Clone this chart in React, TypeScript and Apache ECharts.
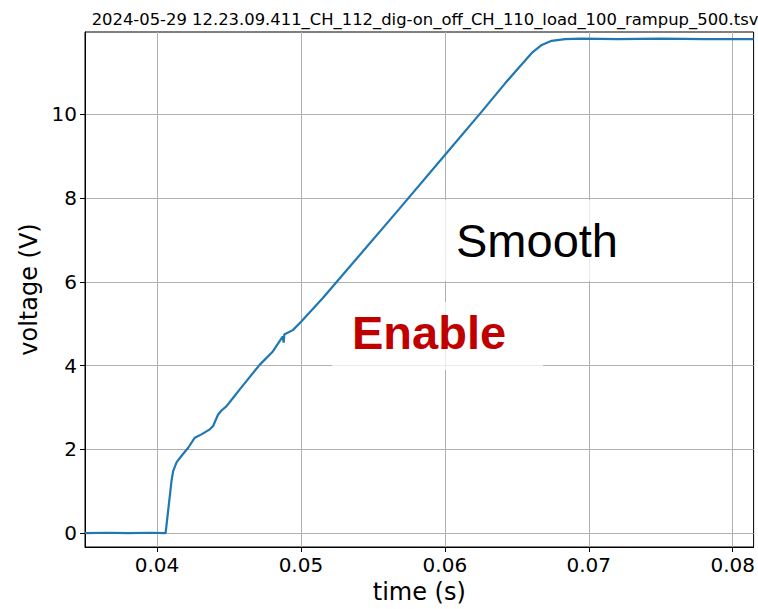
import React, { useEffect, useRef } from "react";
import * as echarts from "echarts";

const TITLE = "2024-05-29 12.23.09.411_CH_112_dig-on_off_CH_110_load_100_rampup_500.tsv";
const timeS = [
  0.035, 0.0365, 0.038, 0.0395, 0.0406, 0.04101, 0.04113, 0.04136, 0.04171, 0.04217,
  0.04263, 0.04309, 0.04367, 0.0439, 0.04424, 0.04448, 0.04482, 0.04528, 0.04574, 0.04713,
  0.04805, 0.04851, 0.04874, 0.0488, 0.04885, 0.04897, 0.04944, 0.05001, 0.05151, 0.05682,
  0.06005, 0.06259, 0.0642, 0.06512, 0.06604, 0.06673, 0.06742, 0.06834, 0.06948, 0.072,
  0.075, 0.078, 0.08145,
];
const voltage = [
  0.0, 0.01, 0.0, 0.01, 0.0, 1.25, 1.49, 1.69, 1.85, 2.04,
  2.28, 2.36, 2.48, 2.56, 2.83, 2.93, 3.03, 3.23, 3.43, 4.02,
  4.34, 4.58, 4.7, 4.55, 4.75, 4.77, 4.85, 5.05, 5.61, 7.74,
  9.05, 10.08, 10.75, 11.11, 11.47, 11.66, 11.76, 11.8, 11.81, 11.8,
  11.81, 11.8, 11.8,
];
const xTicks = [0.04, 0.05, 0.06, 0.07, 0.08];
const yTicks = [0, 2, 4, 6, 8, 10];

export default function App() {
  const ref = useRef<HTMLDivElement>(null);
  useEffect(() => {
    if (!ref.current) return;
    const chart = echarts.init(ref.current, null, { renderer: "svg" });
    const tickFont = { fontFamily: "DejaVu Sans", fontSize: 20, color: "#000" };
    chart.setOption({
      animation: false,
      backgroundColor: "#fff",
      title: {
        text: TITLE,
        left: 420,
        textAlign: "center",
        top: 6,
        textStyle: { fontFamily: "DejaVu Sans", fontSize: 16.4, fontWeight: "normal", color: "#000" },
      },
      grid: {
        left: 85, right: 2, top: 32, bottom: 59,
        show: true, borderColor: "#000", borderWidth: 1, backgroundColor: "transparent",
      },
      xAxis: {
        type: "value",
        min: 0.035,
        max: 0.08145,
        name: "time (s)",
        nameLocation: "middle",
        nameGap: 33,
        nameTextStyle: { fontFamily: "DejaVu Sans", fontSize: 24, color: "#000" },
        axisLine: { show: true, onZero: false, lineStyle: { color: "#000", width: 1 } },
        axisTick: { show: true, length: 5, customValues: xTicks, lineStyle: { color: "#000" } },
        axisLabel: { ...tickFont, margin: 8, customValues: xTicks, formatter: (v: number) => v.toFixed(2) },
        splitLine: { show: true, lineStyle: { color: "#b0b0b0", width: 1 } },
      },
      yAxis: {
        type: "value",
        min: -0.33,
        max: 11.97,
        name: "voltage (V)",
        nameLocation: "middle",
        nameGap: 42,
        nameTextStyle: { fontFamily: "DejaVu Sans", fontSize: 24, color: "#000" },
        axisLine: { show: true, onZero: false, lineStyle: { color: "#000", width: 1 } },
        axisTick: { show: true, length: 5, customValues: yTicks, lineStyle: { color: "#000" } },
        axisLabel: { ...tickFont, margin: 8, customValues: yTicks, formatter: (v: number) => String(v) },
        splitLine: { show: true, lineStyle: { color: "#b0b0b0", width: 1 } },
      },
      series: [
        {
          type: "line",
          data: timeS.map((t, i) => [t, voltage[i]]),
          showSymbol: false,
          lineStyle: { color: "#1f77b4", width: 2.2 },
          z: 2,
        },
      ],
      graphic: [
        {
          type: "rect",
          shape: { x: 436, y: 200, width: 205, height: 81 },
          style: { fill: "rgba(255,255,255,0.75)" },
          z: 10,
        },
        {
          type: "rect",
          shape: { x: 332, y: 302, width: 211, height: 68 },
          style: { fill: "rgba(255,255,255,0.75)" },
          z: 10,
        },
        {
          type: "text",
          x: 456,
          y: 240,
          style: {
            text: "Smooth",
            fontFamily: "Liberation Sans",
            fontSize: 47,
            fill: "#000",
            verticalAlign: "middle",
          },
          z: 11,
        },
        {
          type: "text",
          x: 352,
          y: 332,
          style: {
            text: "Enable",
            fontFamily: "Liberation Sans",
            fontSize: 47,
            fontWeight: "bold",
            fill: "#c00000",
            verticalAlign: "middle",
          },
          z: 11,
        },
      ],
    });
    return () => chart.dispose();
  }, []);
  return <div ref={ref} style={{ width: 758, height: 609, position: "absolute", left: 0, top: 0 }} />;
}
